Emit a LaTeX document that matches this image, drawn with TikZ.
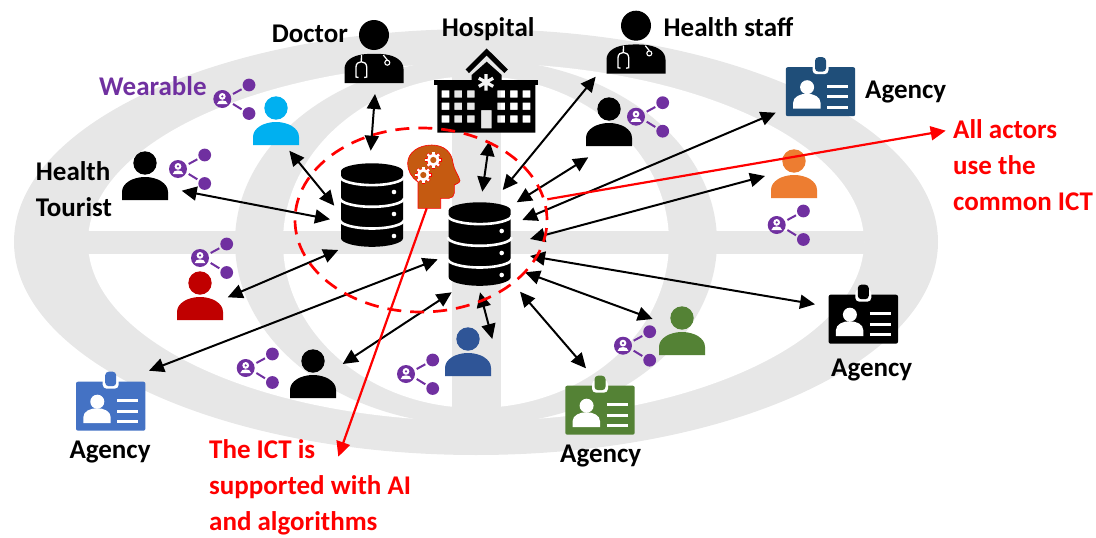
\documentclass[tikz,border=0pt]{standalone}
\usepackage{fontspec}
\setmainfont{Carlito}
\usetikzlibrary{arrows.meta}
\definecolor{bggray}{HTML}{E7E7E7}
\definecolor{purp}{HTML}{7030A0}
\definecolor{brainc}{HTML}{C55A11}
\definecolor{cyanp}{HTML}{00B0F0}
\definecolor{redp}{HTML}{C00000}
\definecolor{bluep}{HTML}{2F5597}
\definecolor{greenp}{HTML}{548235}
\definecolor{orangep}{HTML}{ED7D31}
\definecolor{navyb}{HTML}{1F4E79}
\definecolor{blueb}{HTML}{4472C4}
\tikzset{
  x=1pt,y=-1pt,
  lab/.style={anchor=base west,inner sep=0pt,font=\fontsize{27}{27}\selectfont\bfseries},
  biarrow/.style={line width=2pt,{Triangle[length=15pt,width=14pt]}-{Triangle[length=15pt,width=14pt]}},
  redarrow/.style={line width=2.2pt,red,-{Triangle[length=15pt,width=14pt]}},
  person/.pic={
    \fill[#1] (0,0) circle (11.7);
    \fill[#1] (-23,37) -- (-23,29) .. controls (-23,20) and (-12,14) .. (0,14) .. controls (12,14) and (23,20) .. (23,29) -- (23,37) -- cycle;
  },
  sharebadge/.pic={
    \fill[purp] (0,0) circle (9);
    \fill[white] (0,-2.6) circle (3.4);
    \fill[white] (-5.4,5.2) .. controls (-5.2,2.2) and (-2.4,1.4) .. (0,1.4) .. controls (2.4,1.4) and (5.2,2.2) .. (5.4,5.2) -- cycle;
    \fill[purp] (0,-2.6) circle (1.2);
    \fill[purp] (26.7,-14) circle (6.4) (26.7,14.5) circle (6.4);
    \draw[purp,line width=2pt] (10.7,-5) -- (19.3,-9.7) (10.7,5) -- (19.3,10.3);
  },
  idbadge/.pic={
    \fill[#1,rounded corners=2pt] (-34.7,-24.5) rectangle (34.7,24.5);
    \fill[white,rounded corners=4pt] (-8,-30) rectangle (8,-17.5);
    \fill[#1,rounded corners=3.5pt] (-5.5,-34.5) rectangle (5.5,-20);
    \fill[white] (-13.4,-4.5) circle (7);
    \fill[white] (-27.4,17) -- (-27.4,11) .. controls (-27.4,5) and (-20,2) .. (-13.7,2) .. controls (-7,2) and (0,5) .. (0,11) -- (0,17) -- cycle;
    \draw[white,line width=2.6pt] (6.6,-5.5) -- (27.6,-5.5) (6.6,5) -- (27.6,5) (6.6,15.5) -- (27.6,15.5);
  },
  dbicon/.pic={
    \fill[black] (-31,8) .. controls (-31,3.6) and (-17,0) .. (0,0) .. controls (17,0) and (31,3.6) .. (31,8)
      -- (31,75) .. controls (31,79.6) and (17,83.5) .. (0,83.5) .. controls (-17,83.5) and (-31,79.6) .. (-31,75) -- cycle;
    \foreach \s in {13.3,35,56.7}{
      \draw[white,line width=2.6pt] (-32,\s) .. controls (-32,{\s+4.7}) and (-17,{\s+8.5}) .. (0,{\s+8.5}) .. controls (17,{\s+8.5}) and (32,{\s+4.7}) .. (32,\s);
    }
    \fill[white] (22,28.7) circle (2.3) (22,50.7) circle (2.3) (22,72.7) circle (2.3);
  },
  docicon/.pic={
    \fill[black] (0,0) circle (15);
    \fill[black] (-29.5,48) -- (-29.5,34) .. controls (-29.5,26) and (-22,21) .. (-12,19.5) .. controls (-5,18.5) and (5,18.5) .. (12,19.5) .. controls (22,21) and (29.5,26) .. (29.5,34) -- (29.5,48) -- cycle;
    \draw[white,line width=1.3pt] (-12.5,20) -- (-12.7,26.5);
    \draw[white,line width=1.3pt] (-15.5,42.5) -- (-18,42) -- (-18,32) .. controls (-18,25) and (-7.3,25) .. (-7.3,32) -- (-7.3,42) -- (-9.8,42.5);
    \draw[white,line width=1.2pt] (9.3,20) -- (13.3,25);
    \draw[white,line width=1.1pt] (13.3,27.7) circle (2.5);
  },
}
\begin{document}
\begin{tikzpicture}
\useasboundingbox (0,0) rectangle (1096,538);
% background globe
\fill[bggray] (476,242) ellipse [x radius=462pt,y radius=213pt];
\fill[white] (476,242) ellipse [x radius=388pt,y radius=179pt];
\fill[bggray] (476,242) ellipse [x radius=241pt,y radius=183pt];
\fill[white] (476,242) ellipse [x radius=193pt,y radius=166pt];
\fill[bggray] (88,231) rectangle (864,253.5);
\fill[bggray] (452,70) rectangle (500.7,412);

% people
\pic at (276,108) {person=cyanp};
\pic at (145,163) {person=black};
\pic at (200,283) {person=redp};
\pic at (313,361) {person=black};
\pic at (468,339) {person=bluep};
\pic at (682,318) {person=greenp};
\pic at (794,161) {person=orangep};
\pic at (609,109) {person=black};
% share icons
\pic at (222.3,99) {sharebadge};
\pic at (178,169) {sharebadge};
\pic at (200,258) {sharebadge};
\pic at (245.7,368) {sharebadge};
\pic at (406,374) {sharebadge};
\pic at (623,345.7) {sharebadge};
\pic at (776.7,225) {sharebadge};
\pic at (636,116.7) {sharebadge};
% badges
\pic at (110.7,406.2) {idbadge=blueb};
\pic at (820.5,91.7) {idbadge=navyb};
\pic at (863.3,319.2) {idbadge=black};
\pic at (600,410.2) {idbadge=greenp};
% doctors
\pic at (374,35) {docicon};
\pic at (636,25.7) {docicon};
% hospital
\fill[black,even odd rule] (437.3,85) rectangle (535.3,132.7)
  (441.7,90.3) rectangle +(7.7,7.2) (454.3,90.3) rectangle +(7.7,7.2) (467,90.3) rectangle +(7.7,7.2)
  (497.3,90.3) rectangle +(7.7,7.2) (510,90.3) rectangle +(7.7,7.2) (522.7,90.3) rectangle +(7.7,7.2)
  (441.7,102.7) rectangle +(7.7,7.2) (454.3,102.7) rectangle +(7.7,7.2) (467,102.7) rectangle +(7.7,7.2)
  (497.3,102.7) rectangle +(7.7,7.2) (510,102.7) rectangle +(7.7,7.2) (522.7,102.7) rectangle +(7.7,7.2)
  (441.7,115.3) rectangle +(7.7,7.2) (454.3,115.3) rectangle +(7.7,7.2) (467,115.3) rectangle +(7.7,7.2)
  (497.3,115.3) rectangle +(7.7,7.2) (510,115.3) rectangle +(7.7,7.2) (522.7,115.3) rectangle +(7.7,7.2)
  (481,110) rectangle (491.7,128.3);
\fill[black] (434,80) rectangle (538.3,85);
\fill[black] (471.7,85) -- (471.7,75) -- (486.7,61.7) -- (501.7,75) -- (501.7,85) -- cycle;
\draw[black,line width=5pt,miter limit=5] (467.3,71.3) -- (486.7,52) -- (506.1,71.3);
\draw[bggray!40!white,line width=3.2pt] (486,74) -- (486,90.6) (478.8,78.2) -- (493.2,86.4) (478.8,86.4) -- (493.2,78.2);
% databases
\pic at (372,163.3) {dbicon};
\pic at (479.7,202.3) {dbicon};
% brain
\path[fill=brainc,draw=red,line width=0.6pt] (418,208.3) -- (418,182) .. controls (411,177) and (407.7,171) .. (407.7,163) .. controls (407.7,153) and (418,145) .. (431.7,145) .. controls (445,145) and (452,153) .. (453,163) .. controls (454,170) and (459,176) .. (460,180.5) .. controls (460,183) and (456,184) .. (454.3,185) -- (454.3,193) .. controls (454.3,196) and (452,198.3) .. (449,198.3) -- (440.7,198.3) -- (440.7,208.3) -- cycle;
\foreach \cx/\cy in {433.3/160,423.3/175}{
  \begin{scope}[shift={(\cx,\cy)}]
    \foreach \a in {0,45,...,315}{\draw[red,line width=3.2pt,rotate=\a] (0,0) -- (8.5,0);}
    \fill[red] (0,0) circle (6.6);
    \foreach \a in {0,45,...,315}{\draw[white,line width=2.4pt,rotate=\a] (0,0) -- (8,0);}
    \fill[white] (0,0) circle (6);
    \fill[brainc] (0,0) circle (3.1);
  \end{scope}
}
% labels
\node[lab] (ldoctor) at (271.7,42.7) {Doctor};
\node[lab] (lhospital) at (441.7,36) {Hospital};
\node[lab] (lstaff) at (663.5,36) {Health staff};
\node[lab] (lag1) at (865,98.3) {Agency};
\node[lab,text=purp] (lwear) at (99,95) {Wearable};
\node[lab] (lhealth) at (35.7,180) {Health};
\node[lab] (ltourist) at (35.7,216.7) {Tourist};
\node[lab] (lag2) at (69.3,458) {Agency};
\node[lab] (lag3) at (831,376) {Agency};
\node[lab] (lag4) at (560,462.7) {Agency};
\node[lab,text=red] (rb1) at (209,458) {The ICT is};
\node[lab,text=red] (rb2) at (209,494) {supported with AI};
\node[lab,text=red] (rb3) at (209,530) {and algorithms};
\node[lab,text=red] (ra1) at (953,138) {All actors};
\node[lab,text=red] (ra2) at (953,174) {use the};
\node[lab,text=red] (ra3) at (953,210) {common ICT};
% connector ends
\coordinate (a1) at (375,94); \coordinate (a1b) at (370.7,150.7);
\coordinate (a2) at (289.3,150.7); \coordinate (a2b) at (334.3,205.7);
\coordinate (a3) at (181.7,190.7); \coordinate (a3b) at (330,219.3);
\coordinate (a4) at (227.7,297.3); \coordinate (a4b) at (338.3,250);
\coordinate (a5) at (149,370.7); \coordinate (a5b) at (437.7,259.3);
\coordinate (a6) at (342.7,364); \coordinate (a6b) at (451.7,292.3);
\coordinate (a7) at (480,292.3); \coordinate (a7b) at (492.3,339);
\coordinate (a8) at (520,291.7); \coordinate (a8b) at (586,368.3);
\coordinate (a9) at (525,272.3); \coordinate (a9b) at (652.7,319);
\coordinate (a10) at (530,256); \coordinate (a10b) at (815,304.3);
\coordinate (a11) at (530,239); \coordinate (a11b) at (765,176);
\coordinate (a12) at (522.3,220); \coordinate (a12b) at (775.7,112.7);
\coordinate (a13) at (516.7,202.3); \coordinate (a13b) at (588.3,157.3);
\coordinate (a14) at (502.7,190); \coordinate (a14b) at (595.7,76.7);
\coordinate (a15) at (482.3,191.7); \coordinate (a15b) at (489.5,141);
\coordinate (r1) at (547.3,199.3); \coordinate (r1b) at (945.7,130.7);
\coordinate (r2) at (426.7,208.3); \coordinate (r2b) at (338.3,456.7);
\foreach \n in {2,...,15}{\draw[biarrow] (a\n) -- (a\n b);}
% dashed ring
\draw[red,line width=2.7pt,dash pattern=on 14pt off 9pt] (421,220) ellipse [x radius=126pt,y radius=92pt];
\draw[biarrow] (a1) -- (a1b);
\draw[redarrow] (r1) -- (r1b);
\draw[redarrow] (r2) -- (r2b);
\end{tikzpicture}
\end{document}
